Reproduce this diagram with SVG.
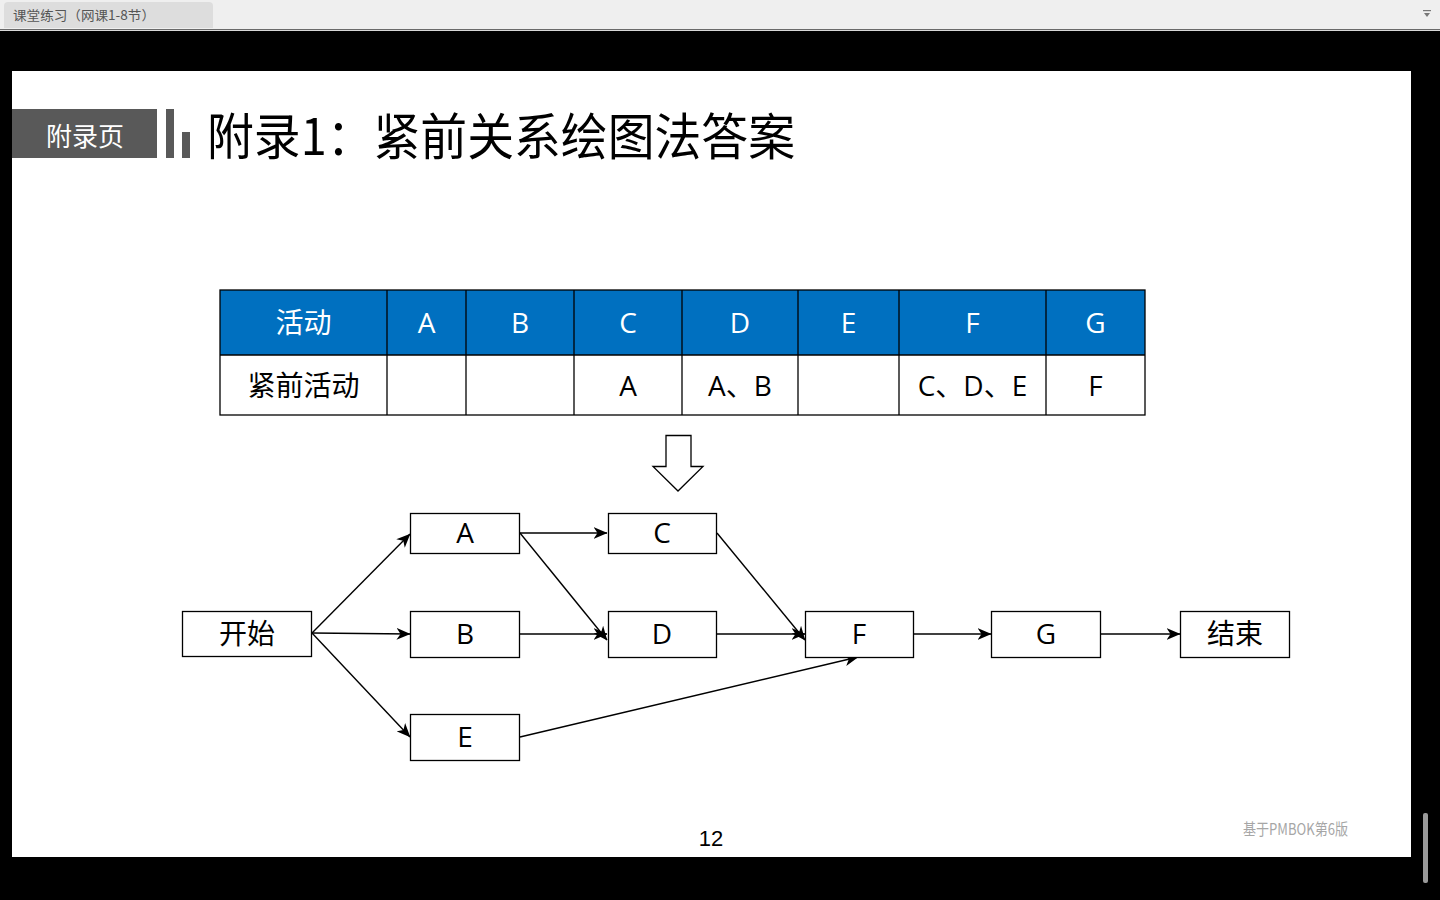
<svg xmlns="http://www.w3.org/2000/svg" width="1440" height="900" viewBox="0 0 1440 900">
  <style>
    .cjk { font-family: "Noto Sans CJK SC", sans-serif; }
    .lbl { font-family: "Open Sans", "Noto Sans CJK SC", sans-serif; font-size: 28px; text-anchor: middle; dominant-baseline: central; }
    .node rect { fill: #ffffff; stroke: #000000; stroke-width: 1.3; }
    .cell { stroke: #000000; stroke-width: 1.3; }
    .edge { stroke: #000000; stroke-width: 1.4; fill: none; marker-end: url(#arrow); }
  </style>
  <defs>
    <marker id="arrow" viewBox="0 0 14 12" refX="13.5" refY="6" markerWidth="14" markerHeight="12" markerUnits="userSpaceOnUse" orient="auto">
      <path d="M0,0 L14,6 L0,12 L4,6 Z" fill="#000000"/>
    </marker>
  </defs>

  <!-- window chrome -->
  <rect x="0" y="0" width="1440" height="900" fill="#000000"/>
  <rect x="0" y="0" width="1440" height="29" fill="#efefef"/>
  <rect x="0" y="29" width="1440" height="1" fill="#6a6a6a"/>
  <rect x="0" y="30" width="1440" height="1" fill="#d8d8d8"/>
  <path d="M4,28 L4,6 Q4,2 8,2 L209,2 Q213,2 213,6 L213,28 Z" fill="#dddddd"/>
  <text x="13" y="20" class="cjk" font-size="13" fill="#555555" textLength="142" lengthAdjust="spacingAndGlyphs">课堂练习（网课1-8节）</text>
  <g fill="#777777">
    <rect x="1423" y="10" width="8" height="1.2"/>
    <path d="M1424,13 L1430,13 L1427,17 Z"/>
  </g>
  <rect x="1423" y="813" width="5" height="70" rx="2" fill="#9a9a9a"/>

  <!-- slide -->
  <rect x="12" y="71" width="1399" height="786" fill="#ffffff"/>

  <!-- header -->
  <g id="title">
    <rect x="12" y="109" width="145" height="49" fill="#595959"/>
    <text x="85" y="134" class="cjk" font-size="26" fill="#ffffff" text-anchor="middle" dominant-baseline="central">附录页</text>
    <rect x="166" y="109" width="8" height="49" fill="#595959"/>
    <rect x="182" y="132" width="8" height="26" fill="#595959"/>
    <text x="207" y="155" class="cjk" font-size="50" fill="#000000" textLength="588" lengthAdjust="spacingAndGlyphs">附录1：紧前关系绘图法答案</text>
  </g>

  <!-- predecessor table -->
  <g id="table">
    <rect x="220" y="290" width="925" height="65" fill="#0070c0"/>
    <rect x="220" y="355" width="925" height="60" fill="#ffffff"/>
    <g class="cell">
      <rect x="220" y="290" width="925" height="125" fill="none"/>
      <line x1="220" y1="355" x2="1145" y2="355"/>
      <line x1="387" y1="290" x2="387" y2="415"/>
      <line x1="466" y1="290" x2="466" y2="415"/>
      <line x1="574" y1="290" x2="574" y2="415"/>
      <line x1="682" y1="290" x2="682" y2="415"/>
      <line x1="798" y1="290" x2="798" y2="415"/>
      <line x1="899" y1="290" x2="899" y2="415"/>
      <line x1="1046" y1="290" x2="1046" y2="415"/>
    </g>
    <g class="lbl" fill="#ffffff">
      <text x="303.5" y="322">活动</text>
      <text x="426.5" y="322">A</text>
      <text x="520" y="322">B</text>
      <text x="628" y="322">C</text>
      <text x="740" y="322">D</text>
      <text x="848.5" y="322">E</text>
      <text x="972.5" y="322">F</text>
      <text x="1095.5" y="322">G</text>
    </g>
    <g class="lbl" fill="#000000">
      <text x="303.5" y="385">紧前活动</text>
      <text x="628" y="385">A</text>
      <text x="740" y="385">A、B</text>
      <text x="972.5" y="385">C、D、E</text>
      <text x="1095.5" y="385">F</text>
    </g>
  </g>

  <!-- block arrow pointing down -->
  <path id="down-arrow" d="M666,435.5 L691,435.5 L691,466.5 L703,466.5 L678,491 L653,466.5 L666,466.5 Z" fill="#ffffff" stroke="#000000" stroke-width="1.3"/>

  <!-- connectors -->
  <g id="connectors">
    <line class="edge" x1="312" y1="633" x2="410" y2="534"/>
    <line class="edge" x1="312" y1="633" x2="410" y2="634"/>
    <line class="edge" x1="312" y1="633" x2="410" y2="737"/>
    <line class="edge" x1="520" y1="533" x2="607" y2="533"/>
    <line class="edge" x1="520" y1="533" x2="607" y2="640"/>
    <line class="edge" x1="520" y1="634" x2="607" y2="634"/>
    <line class="edge" x1="717" y1="533" x2="805" y2="640"/>
    <line class="edge" x1="717" y1="634" x2="805" y2="634"/>
    <line class="edge" x1="520" y1="737" x2="858" y2="657"/>
    <line class="edge" x1="914" y1="634" x2="991" y2="634"/>
    <line class="edge" x1="1101" y1="634" x2="1180" y2="634"/>
  </g>

  <!-- network nodes -->
  <g id="node-start" class="node"><rect x="182.5" y="611.5" width="129" height="45"/><text class="lbl" x="247" y="633">开始</text></g>
  <g id="node-a" class="node"><rect x="410.5" y="513.5" width="109" height="40"/><text class="lbl" x="465" y="532">A</text></g>
  <g id="node-b" class="node"><rect x="410.5" y="611.5" width="109" height="46"/><text class="lbl" x="465" y="633">B</text></g>
  <g id="node-e" class="node"><rect x="410.5" y="714.5" width="109" height="46"/><text class="lbl" x="465" y="736">E</text></g>
  <g id="node-c" class="node"><rect x="608.5" y="513.5" width="108" height="40"/><text class="lbl" x="662" y="532">C</text></g>
  <g id="node-d" class="node"><rect x="608.5" y="611.5" width="108" height="46"/><text class="lbl" x="662" y="633">D</text></g>
  <g id="node-f" class="node"><rect x="805.5" y="611.5" width="108" height="46"/><text class="lbl" x="859" y="633">F</text></g>
  <g id="node-g" class="node"><rect x="991.5" y="611.5" width="109" height="46"/><text class="lbl" x="1046" y="633">G</text></g>
  <g id="node-end" class="node"><rect x="1180.5" y="611.5" width="109" height="46"/><text class="lbl" x="1235" y="633">结束</text></g>

  <!-- footer -->
  <text x="711" y="846" font-family="Liberation Sans, sans-serif" font-size="22" fill="#000000" text-anchor="middle">12</text>
  <text x="1243" y="835" class="cjk" font-size="16" fill="#a6a6a6" textLength="105" lengthAdjust="spacingAndGlyphs">基于PMBOK第6版</text>
</svg>
